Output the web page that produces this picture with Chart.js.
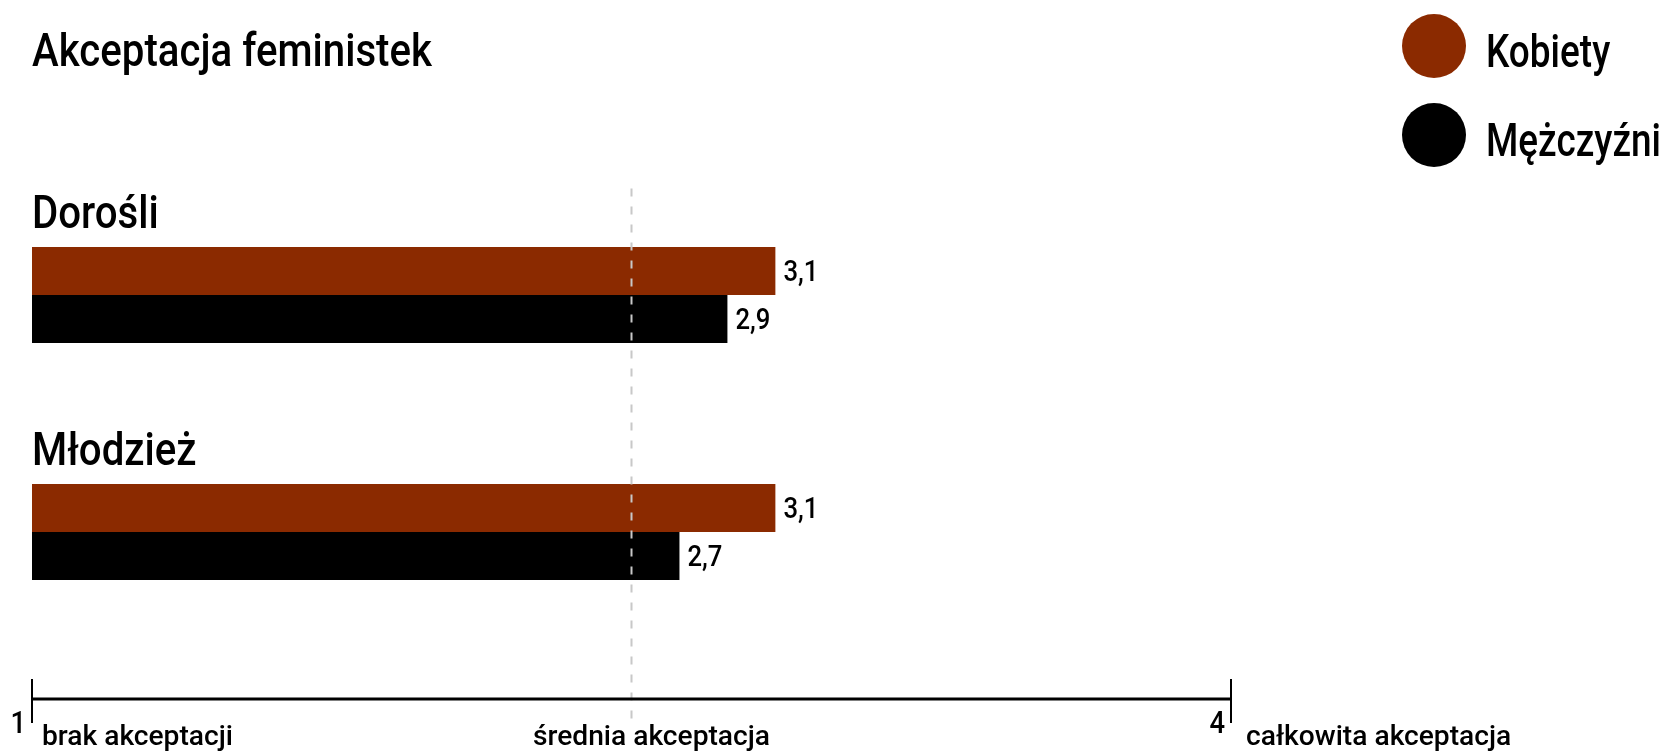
<!DOCTYPE html>
<html lang="pl">
<head>
<meta charset="utf-8">
<title>Akceptacja feministek</title>
<script src="https://cdn.jsdelivr.net/npm/chart.js@4/dist/chart.umd.min.js"></script>
<style>
  html, body { margin: 0; padding: 0; background: #fff; }
  #wrap { width: 1670px; height: 754px; }
</style>
</head>
<body>
<div id="wrap"><canvas id="chart"></canvas></div>
<script>
// Data
const chartTitle = "Akceptacja feministek";
const categories = ["Dorośli", "Młodzież"];
const seriesNames = ["Kobiety", "Mężczyźni"];
const seriesColors = ["#8b2a00", "#000000"];
const kobiety = [3.1, 3.1];
const mezczyzni = [2.9, 2.7];
const scaleTicks = [1, 4];
const scaleNames = ["brak akceptacji", "średnia akceptacja", "całkowita akceptacja"];
const scaleNameValues = [1, 2.5, 4];
const meanValue = 2.5;

const FONT = 'Roboto, "Noto Sans", sans-serif';
const AXIS_Y = 699;

function fitScale(ctx, str, size, width) {
  ctx.save();
  ctx.font = `500 ${size}px ${FONT}`;
  const w = ctx.measureText(str).width;
  ctx.restore();
  return width / w;
}

function drawText(ctx, str, x, y, size, align, sx) {
  ctx.save();
  ctx.font = `500 ${size}px ${FONT}`;
  ctx.textAlign = align;
  ctx.textBaseline = 'alphabetic';
  ctx.fillStyle = '#000';
  ctx.translate(x, y);
  ctx.scale(sx, 1);
  ctx.fillText(str, 0, 0);
  ctx.restore();
}

const fmt = v => v.toFixed(1).replace('.', ',');

// everything around the bars: title, legend, group names, values, scale
const decor = {
  id: 'decor',
  afterDatasetsDraw(chart) {
    const { ctx, chartArea } = chart;
    const ax = chart.scales.x2;
    const bigSx = fitScale(ctx, chartTitle, 47, 400);
    const smallSx = fitScale(ctx, scaleNames[0], 27, 191);
    const legendSx = fitScale(ctx, seriesNames[1], 47, 175);

    // mean line
    const mx = ax.getPixelForValue(meanValue);
    ctx.save();
    ctx.strokeStyle = '#c8c8c8';
    ctx.lineWidth = 2;
    ctx.setLineDash([8, 10]);
    ctx.beginPath();
    ctx.moveTo(mx, chartArea.top + 12);
    ctx.lineTo(mx, AXIS_Y + 24);
    ctx.stroke();
    ctx.restore();

    // title
    drawText(ctx, chartTitle, chartArea.left, 66, 47, 'left', bigSx);

    // legend
    chart.data.datasets.forEach((ds, i) => {
      const cy = 46 + i * 89;
      ctx.save();
      ctx.fillStyle = ds.backgroundColor;
      ctx.beginPath();
      ctx.arc(1434, cy, 32, 0, Math.PI * 2);
      ctx.fill();
      ctx.restore();
      drawText(ctx, ds.label, 1486, cy + 21, 47, 'left', legendSx);
    });

    // group names above bars
    const first = chart.getDatasetMeta(0).data;
    chart.data.labels.forEach((lab, i) => {
      const el = first[i];
      drawText(ctx, lab, chartArea.left, el.y - el.height / 2 - 19, 47, 'left', bigSx);
    });

    // value labels
    chart.data.datasets.forEach((ds, di) => {
      chart.getDatasetMeta(di).data.forEach((el, i) => {
        drawText(ctx, fmt(ds.data[i]), el.x + 8, el.y + 10, 30, 'left', bigSx);
      });
    });

    // scale line
    const x0 = ax.getPixelForValue(ax.min);
    const x1 = ax.getPixelForValue(ax.max);
    ctx.save();
    ctx.strokeStyle = '#000';
    ctx.lineWidth = 3;
    ctx.beginPath();
    ctx.moveTo(x0, AXIS_Y);
    ctx.lineTo(x1, AXIS_Y);
    ctx.stroke();
    ctx.lineWidth = 2;
    scaleTicks.forEach(t => {
      const tx = ax.getPixelForValue(t);
      ctx.beginPath();
      ctx.moveTo(tx, AXIS_Y - 20);
      ctx.lineTo(tx, AXIS_Y + 24);
      ctx.stroke();
    });
    ctx.restore();
    scaleTicks.forEach(t => {
      drawText(ctx, String(t), ax.getPixelForValue(t) - 6, AXIS_Y + 34, 32, 'right', bigSx);
    });

    // scale descriptions
    drawText(ctx, scaleNames[0], ax.getPixelForValue(scaleNameValues[0]) + 10, AXIS_Y + 46, 27, 'left', smallSx);
    drawText(ctx, scaleNames[1], ax.getPixelForValue(scaleNameValues[1]) + 20, AXIS_Y + 46, 27, 'center', smallSx);
    drawText(ctx, scaleNames[2], ax.getPixelForValue(scaleNameValues[2]) + 15, AXIS_Y + 46, 27, 'left', smallSx);
  }
};

new Chart(document.getElementById('chart'), {
  type: 'bar',
  data: {
    labels: categories,
    datasets: [
      { label: seriesNames[0], data: kobiety, backgroundColor: seriesColors[0] },
      { label: seriesNames[1], data: mezczyzni, backgroundColor: seriesColors[1] }
    ]
  },
  options: {
    indexAxis: 'y',
    responsive: true,
    maintainAspectRatio: false,
    devicePixelRatio: 1,
    animation: false,
    layout: { padding: { left: 32, right: 439, top: 176.5, bottom: 103.5 } },
    datasets: {
      bar: { categoryPercentage: 0.405, barPercentage: 1, borderWidth: 0 }
    },
    scales: {
      x: { type: 'linear', min: 0, max: 5, display: false },
      x2: { type: 'linear', min: 1, max: 4, display: false, position: 'bottom' },
      y: { type: 'category', offset: true, display: false }
    },
    plugins: {
      legend: { display: false },
      tooltip: { enabled: false }
    }
  },
  plugins: [decor]
});
</script>
</body>
</html>
